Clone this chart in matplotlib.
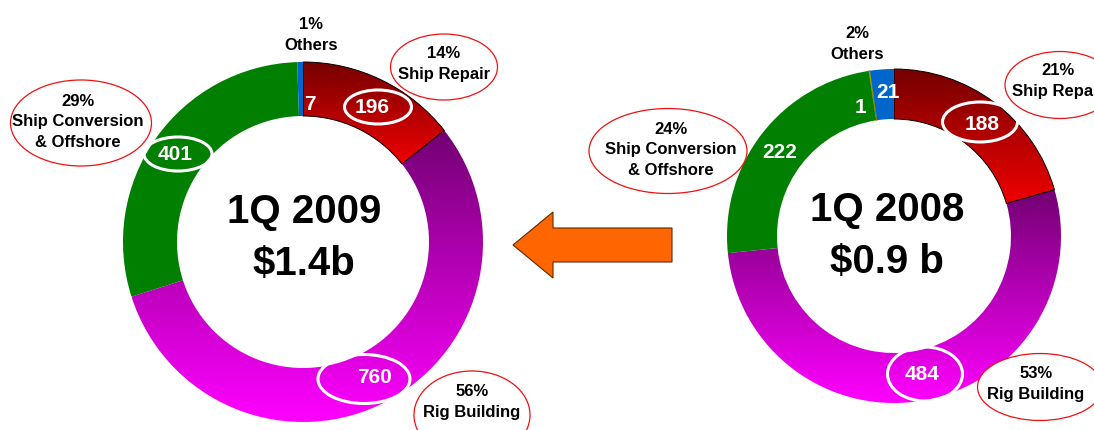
import numpy as np
import matplotlib
matplotlib.use('Agg')
import matplotlib.pyplot as plt
from matplotlib.patches import Ellipse, FancyArrow
from matplotlib.colors import LinearSegmentedColormap

plt.rcParams['font.family'] = ['Liberation Sans', 'DejaVu Sans']

# revenue by segment, S$ million
segments = ['Ship Repair', 'Rig Building', 'Ship Conversion & Offshore', 'Others']
q1_2009 = [196, 760, 401, 7]
seg_2008 = ['Ship Repair', 'Rig Building', 'Ship Conversion & Offshore', 'Others (1)', 'Others']
q1_2008 = [188, 484, 222, 1, 21]
titles = ['1Q 2009\n$1.4b', '1Q 2008\n$0.9 b']

W, H = 1094, 431
fig = plt.figure(figsize=(W / 100, H / 100), dpi=100)
ax = fig.add_axes([0, 0, 1, 1])

RED = ('#760000', '#f00000')
PURPLE = ('#720072', '#ff00ff')
GREEN = '#007f00'
BLUE = '#0066cc'
YELLOW = '#f0f000'


def grad_fill(w, c_top, c_bot):
    bb = w.get_path().get_extents()
    cmap = LinearSegmentedColormap.from_list('g', [c_top, c_bot])
    g = np.linspace(0, 1, 256).reshape(-1, 1)
    im = ax.imshow(g, cmap=cmap, extent=(bb.x0, bb.x1, bb.y1, bb.y0),
                   aspect='auto', origin='upper', zorder=1.5,
                   interpolation='bilinear')
    im.set_clip_path(w)
    w.set_facecolor('none')


def donut(vals, cols, center, r, width):
    # y axis is inverted (pixel coords), so this runs clockwise from 12 o'clock
    wedges, _ = ax.pie(vals, colors=cols, startangle=-90, counterclock=True,
                       center=center, radius=r,
                       wedgeprops=dict(width=width, linewidth=0))
    for w in wedges:
        w.set_zorder(2)
    grad_fill(wedges[0], *RED)
    wedges[0].set_edgecolor('black')
    wedges[0].set_linewidth(0.7)
    grad_fill(wedges[1], *PURPLE)
    return wedges


w09 = donut(q1_2009, ['none', 'none', GREEN, BLUE], (303, 243), 180, 54)
w08 = donut(q1_2008, ['none', 'none', GREEN, YELLOW, BLUE], (894, 237), 167, 50)
w08[3].set_edgecolor('#808000')
w08[3].set_linewidth(0.6)

pct09 = [f'{round(v / sum(q1_2009) * 100 + 0.01)}%' for v in q1_2009]
tot08 = sum(q1_2008)
pct08 = [f'{round(v / tot08 * 100)}%' for v in q1_2008[:3]] + \
        [f'{round((q1_2008[3] + q1_2008[4]) / tot08 * 100)}%']

lab = dict(fontsize=12, fontweight='bold', ha='center', va='center',
           linespacing=1.45, zorder=6)
val = dict(fontsize=15, fontweight='bold', color='white', ha='center',
           va='center', zorder=6)


def callout(x, y, w, h, txt, tx=None, ty=None):
    if w:
        ax.add_patch(Ellipse((x, y), w, h, facecolor='white',
                             edgecolor='#ee1111', lw=0.9, zorder=5))
    ax.text(tx if tx else x, ty if ty else y, txt, **lab)


def ring(x, y, w, h):
    ax.add_patch(Ellipse((x, y), w, h, facecolor='none', edgecolor='white',
                         lw=2.2, zorder=5))


# 1Q 2009
callout(311, 35, 0, 0, f'{pct09[3]}\n{segments[3]}')
callout(444, 68, 107, 66, f'{pct09[0]}\n{segments[0]}', ty=64)
callout(81, 124, 141, 86, f'{pct09[2]}\nShip Conversion\n& Offshore', 78, 122)
callout(472, 416, 116, 88, f'{pct09[1]}\n{segments[1]}', ty=402)
ring(378, 108, 67, 34)
ring(178, 155, 68, 34)
ring(364, 380, 92, 49)
ax.text(310, 105, str(q1_2009[3]), **val)
ax.text(372, 108, str(q1_2009[0]), **val)
ax.text(175, 155, str(q1_2009[2]), **val)
ax.text(374, 378, str(q1_2009[1]), **val)
ax.text(304, 238, titles[0], fontsize=29, fontweight='bold', ha='center',
        va='center', linespacing=1.45, zorder=6)

# 1Q 2008
callout(857, 44, 0, 0, f'{pct08[3]}\n{segments[3]}')
callout(1060, 86, 110, 67, f'{pct08[0]}\n{seg_2008[0]}', 1058, 81)
callout(668, 152, 158, 85, f'{pct08[2]}\nShip Conversion\n& Offshore', 671, 150)
callout(1040, 388, 125, 67, f'{pct08[1]}\n{seg_2008[1]}', 1036, 384)
ring(980, 123, 75, 40)
ring(925, 375, 75, 54)
ax.text(888, 93, str(q1_2008[4]), **val)
ax.text(861, 108, str(q1_2008[3]), **val)
ax.text(780, 153, str(q1_2008[2]), **val)
ax.text(982, 125, str(q1_2008[0]), **val)
ax.text(922, 375, str(q1_2008[1]), **val)
ax.text(887, 236, titles[1], fontsize=29, fontweight='bold', ha='center',
        va='center', linespacing=1.45, zorder=6)

# arrow from 2008 to 2009
ax.add_patch(FancyArrow(672, 246, -159, 0, width=34, head_width=66,
                        head_length=40, length_includes_head=True,
                        facecolor='#ff6600', edgecolor='#5a2a00', lw=0.8,
                        zorder=4))

ax.set_xlim(0, W)
ax.set_ylim(H, 0)
ax.set_aspect('auto')
ax.axis('off')

fig.savefig('out.png', dpi=100)
